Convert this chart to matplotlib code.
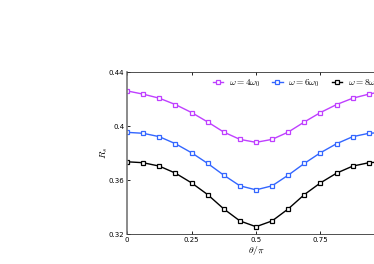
import matplotlib
matplotlib.use("Agg")
import matplotlib.pyplot as plt
import numpy as np

plt.rcParams['mathtext.fontset'] = 'cm'

theta = [i / 16 for i in range(17)]
half4 = [0.4260, 0.4236, 0.4206, 0.4159, 0.4100, 0.4030, 0.3955, 0.3901, 0.3879]
half6 = [0.3953, 0.3946, 0.3921, 0.3869, 0.3802, 0.3723, 0.3636, 0.3557, 0.3527]
half8 = [0.3735, 0.3728, 0.3703, 0.3651, 0.3579, 0.3492, 0.3386, 0.3297, 0.3254]
r4 = half4 + half4[-2::-1]
r6 = half6 + half6[-2::-1]
r8 = half8 + half8[-2::-1]
labels = [r'$\omega=4\omega_0$', r'$\omega=6\omega_0$', r'$\omega=8\omega_0$']
colors = ['#bf3fff', '#3366ff', '#000000']
xticks = [0, 0.25, 0.5, 0.75, 1]
xticklabels = ['0', '0.25', '0.5', '0.75', '1']
yticks = [0.32, 0.36, 0.40, 0.44]
yticklabels = ['0.32', '0.36', '0.4', '0.44']

fig = plt.figure(figsize=(3.74, 2.64), dpi=100)
ax = fig.add_axes([127/374, 30/264, 258/374, 162/264])
for r, lab, c in zip([r4, r6, r8], labels, colors):
    ax.plot(theta, r, '-s', color=c, lw=1.0, ms=3.5, mfc='white', mec=c, mew=0.9, label=lab)

ax.set_xlim(0, 1)
ax.set_ylim(0.32, 0.44)
ax.set_xticks(xticks)
ax.set_xticklabels(xticklabels)
ax.set_yticks(yticks)
ax.set_yticklabels(yticklabels)
ax.tick_params(direction='in', labelsize=5, length=2.5, width=0.6, top=True, right=True, pad=2)
for s in ax.spines.values():
    s.set_linewidth(0.6)
    s.set_color('#333333')
ax.spines['left'].set_linewidth(1.2)
ax.spines['left'].set_color('#777777')
ax.set_xlabel(r'$\theta/\pi$', fontsize=7, labelpad=1)
ax.set_ylabel(r'$R_s$', fontsize=7, labelpad=-1)
ax.legend(loc='upper left', bbox_to_anchor=(0.30, 1.02), ncol=3, frameon=False,
          fontsize=6.7, handlelength=1.1, columnspacing=1.3, handletextpad=0.6,
          markerscale=1.0)
fig.savefig('out.png', dpi=100)
